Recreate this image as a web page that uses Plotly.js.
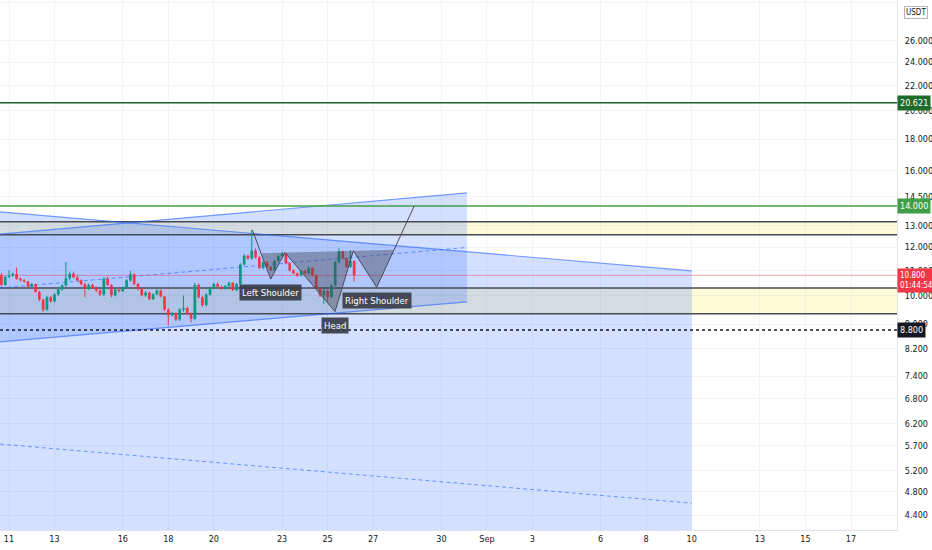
<!DOCTYPE html>
<html><head><meta charset="utf-8">
<script src="https://cdn.plot.ly/plotly-3.0.1.min.js"></script>
<style>html,body{margin:0;padding:0;background:#fff}#chart{width:932px;height:550px}</style>
</head><body><div id="chart"></div>
<script>
// ---------- data ----------
const barStart = '2023-08-10 16:00';
const barHours = 4;
const opens = [10.82,10.42,10.74,10.80,10.86,10.66,10.60,10.55,10.35,10.45,
10.15,9.86,9.50,9.95,9.80,10.05,10.25,10.40,10.68,10.86,
10.72,10.60,10.45,10.28,10.42,10.30,10.20,10.05,10.66,10.42,
10.02,10.24,10.18,10.32,10.60,10.84,10.46,10.26,10.02,10.12,
9.88,10.06,10.20,9.98,9.50,9.30,9.38,9.15,9.50,9.55,
9.35,9.18,10.42,9.95,9.66,10.05,10.30,10.45,10.35,10.28,
10.38,10.50,10.22,10.45,11.25,11.62,11.50,11.85,11.55,11.10,
11.35,11.15,11.02,11.40,11.60,11.72,11.30,11.00,10.88,10.80,
10.98,10.88,11.10,10.80,10.30,10.02,10.18,9.96,10.40,11.35,
11.82,11.52,11.15,11.40];
const highs = [10.90,10.78,11.00,10.92,11.12,10.72,10.66,10.58,10.50,10.48,
10.20,9.90,10.00,10.00,10.10,10.30,10.45,11.35,10.95,10.95,
10.80,10.64,10.50,10.48,10.46,10.36,10.25,10.72,10.75,10.45,
10.28,10.30,10.36,10.65,10.98,10.88,10.50,10.30,10.18,10.15,
10.10,10.26,10.24,10.00,9.55,9.42,9.40,9.55,10.02,9.60,
9.40,10.50,10.48,10.00,10.10,10.35,10.50,10.52,10.40,10.42,
10.55,10.54,10.50,11.30,11.70,11.68,12.80,11.95,11.60,11.42,
11.40,11.20,11.45,11.68,11.80,11.76,11.35,11.05,10.92,11.02,
11.02,11.18,11.14,10.84,10.34,10.25,10.22,10.45,11.40,11.95,
11.85,11.55,11.88,11.42];
const lows = [10.36,10.38,10.70,10.74,10.62,10.55,10.50,10.30,10.30,10.12,
9.80,9.42,9.45,9.75,9.76,10.00,10.20,10.35,10.60,10.68,
10.55,10.40,9.95,10.22,10.26,10.15,10.00,10.00,10.38,9.95,
9.98,10.12,10.14,10.28,10.55,10.40,10.20,9.98,9.96,9.84,
9.85,10.02,9.95,9.45,8.95,9.25,9.10,9.10,9.42,9.30,
9.05,9.12,9.90,9.60,9.62,10.00,10.25,10.30,10.22,10.24,
10.34,10.18,10.18,10.42,11.20,11.45,11.45,11.50,11.05,11.05,
11.10,10.98,10.98,11.36,11.55,11.25,10.96,10.84,10.74,10.76,
10.84,10.84,10.76,10.26,9.96,9.70,9.80,9.92,10.36,11.30,
11.46,11.10,11.10,10.55];
const closes = [10.42,10.74,10.80,10.86,10.66,10.60,10.55,10.35,10.45,10.15,
9.86,9.50,9.95,9.80,10.05,10.25,10.40,10.68,10.86,10.72,
10.60,10.45,10.28,10.42,10.30,10.20,10.05,10.66,10.42,10.02,
10.24,10.18,10.32,10.60,10.84,10.46,10.26,10.02,10.12,9.88,
10.06,10.20,9.98,9.50,9.30,9.38,9.15,9.50,9.55,9.35,
9.18,10.42,9.95,9.66,10.05,10.30,10.45,10.35,10.28,10.38,
10.50,10.22,10.45,11.25,11.62,11.50,11.85,11.55,11.10,11.35,
11.15,11.02,11.40,11.60,11.72,11.30,11.00,10.88,10.80,10.98,
10.88,11.10,10.80,10.30,10.02,10.18,9.96,10.40,11.35,11.82,
11.52,11.15,11.40,10.80];

const yTickVals = [30,26,24,22,20,18,16,14.5,13,12,11,10,9,8.2,7.4,6.8,6.2,5.7,5.2,4.8,4.4];
const xTickDates = ['2023-08-11','2023-08-13','2023-08-16','2023-08-18','2023-08-20','2023-08-23','2023-08-25','2023-08-27','2023-08-30','2023-09-01','2023-09-03','2023-09-06','2023-09-08','2023-09-10','2023-09-13','2023-09-15','2023-09-17'];
const xTickText = ['11','13','16','18','20','23','25','27','30','Sep','3','6','8','10','13','15','17'];

// horizontal levels
const resistanceHigh = 20.621;
const resistanceLow = 14.0;
const supportLevel = 8.8;
const lastPrice = 10.8;
const countdown = '01:44:54';
const upperZone = [12.57, 13.20];
const lowerZone = [9.35, 10.30];

// channels
const viewStart = '2023-08-10 14:30';
const viewEnd = '2023-09-19 00:30';
const ascChannelDates = ['2023-08-10 14:30', '2023-08-31 03:00'];
const ascChannelTop = [12.6, 14.71];
const ascChannelBottom = [8.42, 9.78];
const ascChannelMid = [10.30, 11.99];
const descChannelDates = ['2023-08-10 14:30', '2023-09-10 00:00'];
const descChannelTop = [13.70, 10.98];
const descChannelMid = [5.74, 4.60];
const descChannelFloor = 1;

// inverse head & shoulders
const hsDates = ['2023-08-21 16:35','2023-08-22 12:00','2023-08-23 03:04','2023-08-25 07:48','2023-08-26 03:07','2023-08-27 03:47','2023-08-28 19:26'];
const hsPrices = [12.81,10.65,11.76,9.43,11.84,10.33,14.01];
const hsLabelIdx = [1,3,5];
const hsLabelText = ['Left Shoulder','Head','Right Shoulder'];

// ---------- helpers ----------
const toMs = s => Date.parse(s.replace(' ','T') + (s.length > 10 ? ':00Z' : 'T00:00:00Z'));
const toStr = ms => new Date(ms).toISOString().slice(0,19).replace('T',' ');
const lg = Math.log10;
const barDates = opens.map((_, i) => toStr(toMs(barStart) + i * barHours * 3600000));

function crossNeck(A, B, P, Q) {
  const d1 = [B[0]-A[0], B[1]-A[1]], d2 = [Q[0]-P[0], Q[1]-P[1]];
  const cr = (u, v) => u[0]*v[1] - u[1]*v[0];
  const t = cr([P[0]-A[0], P[1]-A[1]], d2) / cr(d1, d2);
  return [A[0] + t*d1[0], A[1] + t*d1[1]];
}
const hsPts = hsDates.map((d, i) => [toMs(d), lg(hsPrices[i])]);
const xl = crossNeck(hsPts[0], hsPts[1], hsPts[2], hsPts[4]);
const xr = crossNeck(hsPts[5], hsPts[6], hsPts[2], hsPts[4]);
const hsPoly = [xl, hsPts[1], hsPts[2], hsPts[3], hsPts[4], hsPts[5], xr, xl];

const FONT = '"Liberation Sans Narrow", "DejaVu Sans Condensed", "Liberation Sans", Arial, sans-serif';
const skip = {hoverinfo: 'skip', showlegend: false};

function hline(val, color, width, dash) {
  return Object.assign({type: 'scatter', mode: 'lines', x: [viewStart, viewEnd], y: [val, val],
    line: {color: color, width: width, dash: dash || 'solid'}}, skip);
}
function band(z, color) {
  return Object.assign({type: 'scatter', mode: 'lines', fill: 'toself', fillcolor: color,
    x: [viewStart, viewEnd, viewEnd, viewStart, viewStart], y: [z[0], z[0], z[1], z[1], z[0]],
    line: {width: 0}}, skip);
}
function seg(xs, ys, color, width, dash) {
  return Object.assign({type: 'scatter', mode: 'lines', x: xs, y: ys,
    line: {color: color, width: width, dash: dash || 'solid'}}, skip);
}
// candles drawn as scatter segments so they stack above the drawing fills
function candleTraces(up, color) {
  const wx = [], wy = [], bx = [], by = [];
  opens.forEach((o, i) => {
    if ((closes[i] >= o) !== up) return;
    wx.push(barDates[i], barDates[i], null); wy.push(lows[i], highs[i], null);
    let lo = Math.min(o, closes[i]), hi = Math.max(o, closes[i]);
    if (hi / lo < 1.004) { hi *= 1.002; lo /= 1.002; }
    bx.push(barDates[i], barDates[i], null); by.push(lo, hi, null);
  });
  return [
    Object.assign({type: 'scatter', mode: 'lines', x: wx, y: wy, line: {color: color, width: 1}, connectgaps: false}, skip),
    Object.assign({type: 'scatter', mode: 'lines', x: bx, y: by, line: {color: color, width: 2.7}, connectgaps: false}, skip)
  ];
}

const blueFill = 'rgba(41,98,255,0.2)';
const blueLine = 'rgba(41,98,255,0.62)';
const zoneLine = '#474b55';

const traces = [
  band(upperZone, 'rgba(255,235,59,0.2)'),
  band(lowerZone, 'rgba(255,235,59,0.2)'),
  Object.assign({type: 'scatter', mode: 'lines', fill: 'toself', fillcolor: blueFill, line: {width: 0},
    x: [descChannelDates[0], descChannelDates[1], descChannelDates[1], descChannelDates[0], descChannelDates[0]],
    y: [descChannelTop[0], descChannelTop[1], descChannelFloor, descChannelFloor, descChannelTop[0]]}, skip),
  Object.assign({type: 'scatter', mode: 'lines', fill: 'toself', fillcolor: blueFill, line: {width: 0},
    x: [ascChannelDates[0], ascChannelDates[1], ascChannelDates[1], ascChannelDates[0], ascChannelDates[0]],
    y: [ascChannelTop[0], ascChannelTop[1], ascChannelBottom[1], ascChannelBottom[0], ascChannelTop[0]]}, skip),
  hline(upperZone[0], zoneLine, 1.5), hline(upperZone[1], zoneLine, 1.5),
  hline(lowerZone[0], zoneLine, 1.5), hline(lowerZone[1], zoneLine, 1.5),
  seg(descChannelDates, descChannelTop, blueLine, 1.2),
  seg(descChannelDates, descChannelMid, blueLine, 1, '4px,3px'),
  seg(ascChannelDates, ascChannelTop, blueLine, 1.2),
  seg(ascChannelDates, ascChannelBottom, blueLine, 1.2),
  seg(ascChannelDates, ascChannelMid, blueLine, 1, '4px,3px'),
  hline(resistanceHigh, '#1b5e20', 1.5),
  hline(resistanceLow, '#43a047', 1.5),
  hline(supportLevel, '#131722', 1.5, 'dot'),
  hline(lastPrice, 'rgba(242,54,69,0.45)', 1),
  ...candleTraces(true, '#089981'),
  ...candleTraces(false, '#f23645'),
  Object.assign({type: 'scatter', mode: 'lines', fill: 'toself', fillcolor: 'rgba(67,70,81,0.42)', line: {width: 0},
    x: hsPoly.map(p => toStr(p[0])), y: hsPoly.map(p => Math.pow(10, p[1]))}, skip),
  seg(hsDates, hsPrices, '#4a4d58', 1)
];

const annotations = [];
function priceBox(val, text, bg, fg) {
  annotations.push({xref: 'paper', x: 1, xanchor: 'left', xshift: 0, yref: 'y', y: lg(val), yanchor: 'middle',
    text: text, showarrow: false, bgcolor: bg, borderpad: 2,
    font: {family: FONT, size: 9, color: fg || '#ffffff'}});
}
priceBox(resistanceHigh, resistanceHigh.toFixed(3), '#1e6b2b');
priceBox(resistanceLow, resistanceLow.toFixed(3), '#3f9e46');
priceBox(supportLevel, supportLevel.toFixed(3), '#131722');
annotations.push({xref: 'paper', x: 1, xanchor: 'left', yref: 'y', y: lg(lastPrice), yanchor: 'top', yshift: 7,
  text: lastPrice.toFixed(3) + '<br>' + countdown, showarrow: false, bgcolor: '#f23645', borderpad: 2, align: 'left',
  font: {family: FONT, size: 8, color: '#ffffff'}});
annotations.push({xref: 'paper', x: 1, xanchor: 'left', xshift: 7, yref: 'paper', y: 1, yanchor: 'top', yshift: -6,
  text: 'USDT', showarrow: false, bgcolor: '#ffffff', bordercolor: '#b2b5be', borderwidth: 1, borderpad: 1,
  font: {family: FONT, size: 8, color: '#131722'}});
hsLabelIdx.forEach((k, j) => {
  annotations.push({xref: 'x', x: hsDates[k], yref: 'y', y: lg(hsPrices[k]), yanchor: 'top', yshift: -5,
    text: hsLabelText[j], showarrow: false, bgcolor: 'rgba(58,61,72,0.92)', borderpad: 2,
    font: {family: FONT, size: 9.5, color: '#ffffff'}});
});

const layout = {
  width: 932, height: 550, margin: {l: 0, r: 35, t: 0, b: 20},
  paper_bgcolor: '#ffffff', plot_bgcolor: '#ffffff', showlegend: false,
  font: {family: FONT, color: '#131722'},
  xaxis: {type: 'date', range: [viewStart, viewEnd],
    tickvals: xTickDates, ticktext: xTickText, tickfont: {family: FONT, size: 9, color: '#131722'},
    showgrid: true, gridcolor: '#f0f3fa', zeroline: false, showline: true, linecolor: '#e0e3eb', ticks: '', fixedrange: true},
  yaxis: {type: 'log', side: 'right', range: [lg(4.16), lg(30.3)],
    tickvals: yTickVals, ticktext: yTickVals.map(v => v.toFixed(3)),
    tickfont: {family: FONT, size: 9, color: '#131722'}, ticklabelstandoff: 5,
    showgrid: true, gridcolor: '#f0f3fa', zeroline: false, showline: true, linecolor: '#e0e3eb', ticks: '', fixedrange: true},
  annotations: annotations
};

Plotly.newPlot('chart', traces, layout, {staticPlot: true, displayModeBar: false});
</script>
</body></html>
